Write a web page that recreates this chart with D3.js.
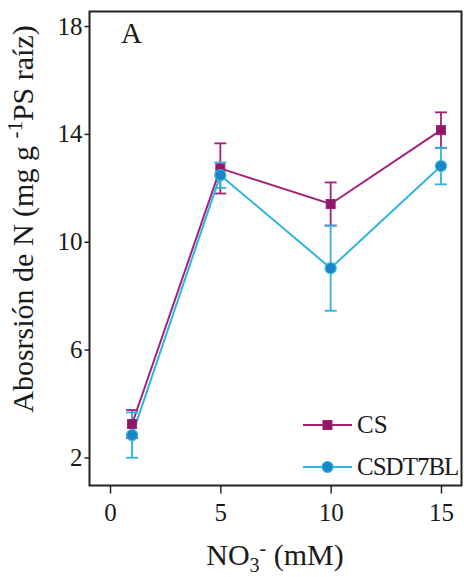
<!DOCTYPE html>
<html>
<head>
<meta charset="utf-8">
<script src="https://cdn.jsdelivr.net/npm/d3@7"></script>
<style>
  html, body { margin: 0; padding: 0; background: #fff; }
  svg { display: block; }
</style>
</head>
<body>
<svg id="chart" width="464" height="577"></svg>
<script>
// ---- data ----
const xValues   = [1, 5, 10, 15];
const csMean    = [3.24, 12.72, 11.40, 14.14];
const csErr     = [0.52, 0.93, 0.80, 0.66];
const csdtMean  = [2.83, 12.47, 9.02, 12.81];
const csdtErr   = [0.84, 0.47, 1.58, 0.68];
const xTicks    = [0, 5, 10, 15];
const yTicks    = [2, 6, 10, 14, 18];
const seriesNames = ["CS", "CSDT7BL"];

// ---- layout ----
const FONT = "Liberation Serif";
const svg = d3.select("#chart");
const L = 89.5, R = 461.5, T = 11.5, B = 485.5;
const x = d3.scaleLinear().domain([-0.93, 15.93]).range([L, R]);
const y = d3.scaleLinear().domain([0.96, 18.54]).range([B, T]);

const colCS = "#a3207a", colCSfill = "#8e1766";
const colDT = "#2db4e0", colDTfill = "#1a86c6";

// frame
svg.append("rect").attr("x", L).attr("y", T).attr("width", R - L).attr("height", B - T)
  .attr("fill", "none").attr("stroke", "#222").attr("stroke-width", 2);

// y axis
const yAxis = d3.axisLeft(y).tickValues(yTicks).tickSize(5).tickPadding(2).tickFormat(d3.format("d"));
const gy = svg.append("g").attr("transform", `translate(${L},0)`).call(yAxis);
gy.select(".domain").remove();
gy.attr("font-family", FONT);
gy.selectAll("line").attr("stroke", "#222").attr("stroke-width", 1.5);
gy.selectAll("text").attr("font-family", FONT).attr("font-size", 25).attr("fill", "#1a1a1a");

// x axis
const xAxis = d3.axisBottom(x).tickValues(xTicks).tickSize(8).tickPadding(10).tickFormat(d3.format("d"));
const gx = svg.append("g").attr("transform", `translate(0,${B})`).call(xAxis);
gx.select(".domain").remove();
gx.attr("font-family", FONT);
gx.selectAll("line").attr("stroke", "#222").attr("stroke-width", 1.5);
gx.selectAll("text").attr("font-family", FONT).attr("font-size", 25).attr("fill", "#1a1a1a");

// axis titles
const xt = svg.append("text").attr("x", 275).attr("y", 565).attr("text-anchor", "middle")
  .attr("font-family", FONT).attr("font-size", 30).attr("fill", "#1a1a1a");
xt.append("tspan").text("NO");
xt.append("tspan").attr("dy", 7).attr("font-size", 20).text("3");
xt.append("tspan").attr("dy", -17).attr("font-size", 20).text("-");
xt.append("tspan").attr("dy", 10).text(" (mM)");

const yt = svg.append("text").attr("transform", "translate(33,219) rotate(-90)")
  .attr("text-anchor", "middle").attr("font-family", FONT).attr("font-size", 30).attr("fill", "#1a1a1a");
yt.append("tspan").text("Abosrsión de N (mg g ");
yt.append("tspan").attr("dy", -11).attr("font-size", 21).text("-1");
yt.append("tspan").attr("dy", 11).text("PS raíz)");

// panel letter
svg.append("text").attr("x", 121).attr("y", 43).attr("font-family", FONT)
  .attr("font-size", 29).attr("fill", "#1a1a1a").text("A");

// ---- series ----
function drawErr(means, errs, color) {
  const g = svg.append("g").attr("stroke", color).attr("stroke-width", 1.8).attr("fill", "none");
  xValues.forEach((xv, i) => {
    const cx = x(xv), y1 = y(means[i] + errs[i]), y0 = y(means[i] - errs[i]);
    g.append("line").attr("x1", cx).attr("x2", cx).attr("y1", y1).attr("y2", y0);
    g.append("line").attr("x1", cx - 6).attr("x2", cx + 6).attr("y1", y1).attr("y2", y1);
    g.append("line").attr("x1", cx - 6).attr("x2", cx + 6).attr("y1", y0).attr("y2", y0);
  });
}
const line = d3.line().x(d => x(d[0])).y(d => y(d[1]));

drawErr(csMean, csErr, colCS);
svg.append("path").datum(xValues.map((v, i) => [v, csMean[i]])).attr("d", line)
  .attr("fill", "none").attr("stroke", colCS).attr("stroke-width", 2);
drawErr(csdtMean, csdtErr, colDT);
svg.append("path").datum(xValues.map((v, i) => [v, csdtMean[i]])).attr("d", line)
  .attr("fill", "none").attr("stroke", colDT).attr("stroke-width", 2);

// markers
svg.append("g").selectAll("rect").data(xValues).join("rect")
  .attr("x", (d) => x(d) - 4.5).attr("y", (d, i) => y(csMean[i]) - 4.5)
  .attr("width", 9).attr("height", 9).attr("fill", colCSfill).attr("stroke", colCS).attr("stroke-width", 1);
svg.append("g").selectAll("circle").data(xValues).join("circle")
  .attr("cx", d => x(d)).attr("cy", (d, i) => y(csdtMean[i])).attr("r", 5.5)
  .attr("fill", colDTfill).attr("stroke", colDT).attr("stroke-width", 1.2);

// ---- legend ----
const leg = svg.append("g");
const legItems = [
  { name: seriesNames[0], color: colCS, fill: colCSfill, ly: 425, shape: "rect" },
  { name: seriesNames[1], color: colDT, fill: colDTfill, ly: 467, shape: "circle" }
];
legItems.forEach(it => {
  leg.append("line").attr("x1", 303).attr("x2", 352).attr("y1", it.ly).attr("y2", it.ly)
    .attr("stroke", it.color).attr("stroke-width", 2);
  if (it.shape === "rect") {
    leg.append("rect").attr("x", 327.5 - 4.5).attr("y", it.ly - 4.5).attr("width", 9).attr("height", 9)
      .attr("fill", it.fill).attr("stroke", it.color);
  } else {
    leg.append("circle").attr("cx", 327.5).attr("cy", it.ly).attr("r", 5.5)
      .attr("fill", it.fill).attr("stroke", it.color).attr("stroke-width", 1.2);
  }
  leg.append("text").attr("x", 357).attr("y", it.ly + 8).attr("font-family", FONT)
    .attr("font-size", 25).attr("fill", "#1a1a1a")
    .attr("letter-spacing", it.shape === "circle" ? -1 : 0).text(it.name);
});
</script>
</body>
</html>
